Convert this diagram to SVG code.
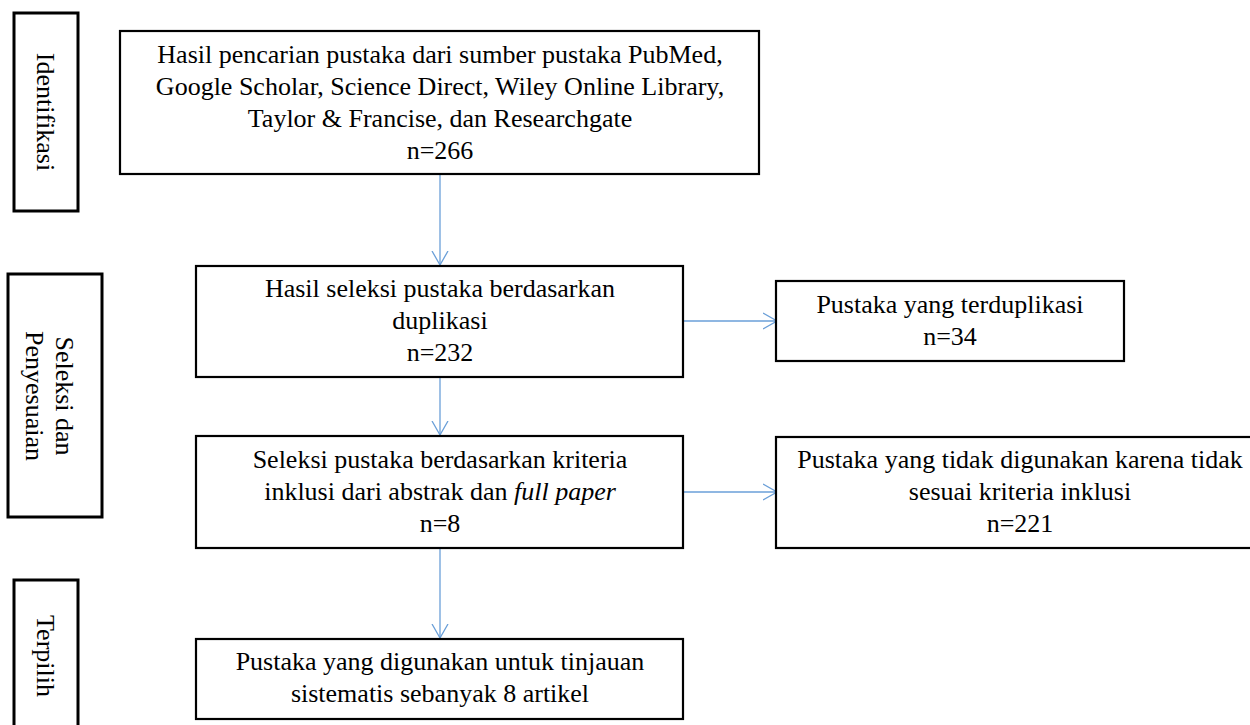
<svg xmlns="http://www.w3.org/2000/svg" width="1250" height="725" viewBox="0 0 1250 725">
<style>
.box{fill:#fff;stroke:#000;stroke-width:2.2}
.side{fill:#fff;stroke:#000;stroke-width:3}
.t{font-family:"Liberation Serif","Times New Roman",serif;font-size:26px;fill:#000;text-anchor:middle}
.c{fill:none;stroke:#6A9FD8;stroke-width:1.3}
</style>
<defs>
<marker id="ah" markerWidth="16" markerHeight="20" refX="14" refY="9" orient="auto" markerUnits="userSpaceOnUse">
<path d="M0,1 L14,9 L0,17" fill="none" stroke="#6A9FD8" stroke-width="1.3"/>
</marker>
</defs>
<rect width="1250" height="725" fill="#fff"/>

<g id="stage-identifikasi">
<rect class="side" x="14" y="13" width="64" height="198"/>
<text class="t" transform="translate(37,112) rotate(90)" y="0">Identifikasi</text>
</g>
<g id="stage-seleksi">
<rect class="side" x="8" y="274" width="94" height="243"/>
<text class="t" transform="translate(55,396) rotate(90)" y="-1">Seleksi dan</text>
<text class="t" transform="translate(55,396) rotate(90)" y="29">Penyesuaian</text>
</g>
<g id="stage-terpilih">
<rect class="side" x="14" y="580" width="64" height="160"/>
<text class="t" transform="translate(37,656) rotate(90)" y="0">Terpilih</text>
</g>

<g id="connectors">
<line class="c" x1="440" y1="174" x2="440" y2="265" marker-end="url(#ah)"/>
<line class="c" x1="440" y1="377" x2="440" y2="435" marker-end="url(#ah)"/>
<line class="c" x1="440" y1="548" x2="440" y2="638" marker-end="url(#ah)"/>
<line class="c" x1="683" y1="321" x2="777" y2="321" marker-end="url(#ah)"/>
<line class="c" x1="683" y1="492" x2="777" y2="492" marker-end="url(#ah)"/>
</g>

<g id="node-identifikasi">
<rect class="box" x="120" y="31" width="639" height="143"/>
<text class="t" x="440" y="63">Hasil pencarian pustaka dari sumber pustaka PubMed,</text>
<text class="t" x="440" y="95">Google Scholar, Science Direct, Wiley Online Library,</text>
<text class="t" x="440" y="127">Taylor &amp; Francise, dan Researchgate</text>
<text class="t" x="440" y="159">n=266</text>
</g>
<g id="node-duplikasi">
<rect class="box" x="196" y="266" width="487" height="111"/>
<text class="t" x="440" y="297">Hasil seleksi pustaka berdasarkan</text>
<text class="t" x="440" y="329">duplikasi</text>
<text class="t" x="440" y="361">n=232</text>
</g>
<g id="node-inklusi">
<rect class="box" x="196" y="436" width="487" height="112"/>
<text class="t" x="440" y="468">Seleksi pustaka berdasarkan kriteria</text>
<text class="t" x="440" y="500">inklusi dari abstrak dan <tspan font-style="italic">full paper</tspan></text>
<text class="t" x="440" y="532">n=8</text>
</g>
<g id="node-terduplikasi">
<rect class="box" x="776" y="281" width="348" height="80"/>
<text class="t" x="950" y="313">Pustaka yang terduplikasi</text>
<text class="t" x="950" y="345">n=34</text>
</g>
<g id="node-tidak-digunakan">
<rect class="box" x="776" y="437" width="490" height="111"/>
<text class="t" x="1020" y="468">Pustaka yang tidak digunakan karena tidak</text>
<text class="t" x="1020" y="500">sesuai kriteria inklusi</text>
<text class="t" x="1020" y="532">n=221</text>
</g>
<g id="node-terpilih">
<rect class="box" x="196" y="639" width="487" height="80"/>
<text class="t" x="440" y="670">Pustaka yang digunakan untuk tinjauan</text>
<text class="t" x="440" y="702">sistematis sebanyak 8 artikel</text>
</g>
</svg>
